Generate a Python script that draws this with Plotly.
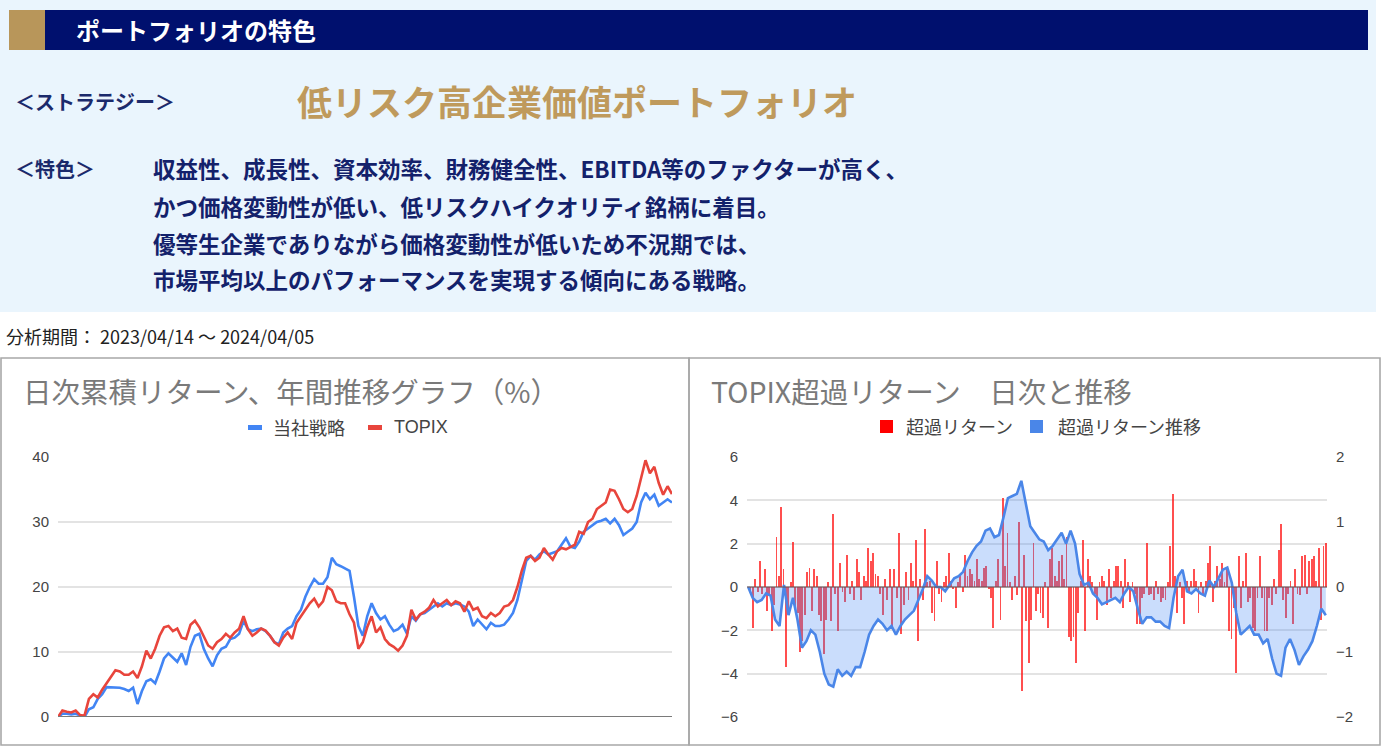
import numpy as np
import plotly.graph_objects as go

W, H = 1387, 753
FONT = "Noto Sans CJK JP"

# ---------------- data ----------------
strategy = [0, 0.5, 0.5, 0.4, 0.5, 0.2, 0.0, 1.2, 1.5, 2.8, 3.5, 4.6, 4.6, 4.5, 4.5, 4.3, 4.0, 4.5, 2.0, 4.0,
            5.5, 5.8, 5.2, 7.0, 9.0, 9.8, 9.2, 8.5, 9.8, 8.0, 10.8, 12.5, 12.8, 10.5, 9.0, 7.8, 9.5, 10.5, 10.8, 12.0,
            12.2, 12.8, 14.8, 13.5, 13.2, 13.5, 13.6, 13.2, 12.5, 11.5, 11.2, 13.0, 13.6, 14.0, 15.5, 16.5, 18.5, 20.0, 21.2, 20.5,
            20.5, 21.5, 24.5, 23.5, 23.2, 22.8, 22.5, 18.5, 14.0, 12.5, 15.5, 17.5, 16.0, 15.0, 15.5, 14.2, 13.2, 13.5, 14.2, 12.8,
            15.5, 14.8, 15.8, 16.0, 16.5, 17.0, 17.5, 17.0, 17.5, 17.2, 17.5, 17.3, 17.0, 16.2, 14.0, 15.0, 14.2, 13.5, 14.5, 14.0,
            14.0, 14.2, 15.0, 16.0, 18.0, 21.0, 24.0, 24.8, 24.2, 25.0, 25.5, 25.0, 25.3, 25.5, 26.5, 27.5, 26.2, 26.0, 27.0, 28.5,
            29.0, 29.5, 30.0, 30.2, 30.5, 29.8, 30.5, 29.5, 28.0, 28.5, 29.0, 30.0, 33.0, 34.5, 33.5, 34.2, 32.5, 33.0, 33.5, 33.0]
topix = [0, 1.0, 0.8, 0.7, 1.0, 0.3, 0.2, 2.8, 3.5, 3.0, 4.2, 5.2, 6.0, 7.2, 7.0, 6.5, 6.5, 7.0, 6.0, 7.8,
         10.2, 9.0, 10.5, 12.5, 13.8, 14.0, 13.2, 13.6, 12.2, 12.0, 14.2, 14.8, 13.8, 12.3, 11.0, 10.5, 11.5, 12.0, 12.8, 12.2,
         13.0, 13.6, 15.5, 13.5, 12.5, 13.0, 13.6, 13.3, 12.5, 11.5, 11.0, 12.2, 13.0, 12.0, 14.5, 15.5, 16.5, 17.5, 18.2, 17.0,
         17.8, 20.0, 19.5, 17.8, 17.5, 17.5, 15.8, 14.5, 10.5, 11.5, 13.8, 15.5, 13.0, 13.8, 12.0, 11.2, 10.8, 10.2, 11.0, 12.5,
         16.5, 15.0, 15.8, 16.2, 16.8, 18.0, 17.0, 17.5, 18.0, 17.2, 17.8, 17.5, 16.2, 17.8, 16.5, 16.8, 15.5, 15.2, 16.0, 15.5,
         16.0, 17.0, 17.2, 18.0, 20.0, 22.5, 24.5, 24.8, 24.0, 24.5, 26.0, 25.0, 24.2, 25.5, 26.0, 25.8, 26.2, 26.5, 28.5, 28.2,
         30.0, 30.5, 32.0, 32.5, 33.0, 35.0, 34.8, 33.5, 32.0, 31.5, 32.0, 34.0, 37.0, 39.5, 37.5, 38.5, 36.0, 34.2, 35.5, 34.3]

excess_daily = [0.00, -0.10, -0.63, 0.13, -0.07, 0.40, -0.10, 0.27, -0.37, -0.13,
                -0.67, -0.27, 0.77, 0.17, 1.23, 0.27, -1.23, -0.40, 0.07, 0.70,
                -0.33, -0.40, -1.00, -0.83, -0.43, 0.23, 0.30, -0.37, 0.27, 0.17,
                -0.43, -0.53, -1.03, -0.50, 0.07, -0.53, 1.13, -0.10, -0.67, 0.37,
                -0.07, -0.23, 0.50, -0.10, 0.10, -0.20, 0.43, 0.23, -0.20, 0.17,
                0.10, 0.60, 0.40, 0.53, 0.20, 0.17, -0.10, -0.43, 0.13, -0.20,
                0.27, -0.60, 0.27, -0.17, 0.83, -0.73, -0.27, 0.23, -0.20, 0.37,
                0.10, 0.73, -0.83, 0.13, -0.20, 0.90, 0.07, 0.10, -0.40, -0.53,
                0.40, -0.10, -0.23, 0.07, 0.17, 0.53, 0.10, -0.03, -0.33, 0.07,
                0.20, -0.07, 0.50, 0.17, 0.27, 0.20, 0.10, 0.43, 0.13, 0.10,
                0.30, 0.33, -0.03, -0.17, -0.63, 0.10, 0.43, -0.50, 1.37, 0.33,
                0.83, 0.07, -0.20, 0.17, -0.13, 1.00, -1.60, 0.50, -0.53, -1.17,
                -0.50, 0.67, -0.37, -0.10, -0.40, -0.47, 0.07, -0.63, 0.43, 0.60,
                0.17, 0.10, 0.40, 0.50, 0.13, 0.77, -0.77, -0.83, -0.77, -1.17,
                -0.40, 0.10, 0.73, -0.67, 0.43, 0.17, 0.07, -0.10, -0.50, 0.07,
                0.17, 0.10, -0.27, 0.27, -0.17, 0.10, 0.33, 0.33, 0.10, -0.33,
                0.43, 0.07, -0.23, 0.07, -0.10, -0.57, -0.57, -0.17, -0.10, 0.67,
                -0.13, -0.10, -0.20, 0.10, -0.10, -0.23, -0.17, -0.20, 0.07, 0.63,
                1.43, 0.17, -0.40, 0.07, -0.17, -0.57, 0.10, -0.07, 0.10, 0.27,
                0.10, -0.40, 0.07, -0.10, 0.10, 0.37, 0.63, -0.23, 0.10, 0.33,
                0.13, 0.37, 0.07, 0.27, -0.67, -0.80, -0.33, -1.33, 0.47, -0.33,
                0.10, 0.53, -0.23, -0.17, -0.63, -0.67, -0.17, 0.47, -0.17, -0.67,
                -0.67, -0.17, -0.27, 0.13, -0.10, 0.57, 0.97, -0.20, -0.47, -0.10,
                0.10, -0.57, 0.27, -0.10, -0.13, 0.47, 0.50, -0.10, 0.40, 0.43,
                0.47, 0.10, 0.60, -0.50, 0.63, 0.67]

excess_trend = [0.0, -0.5, -0.7, -0.6, -0.3, -0.4, -1.5, -1.8, 0.1, -1.3,
                -0.5, -1.5, -2.8, -2.5, -2.0, -2.2, -3.0, -4.0, -4.5, -4.6,
                -3.8, -4.1, -3.9, -4.1, -3.7, -3.7, -3.0, -2.2, -1.8, -1.5,
                -1.7, -2.0, -1.8, -2.2, -1.8, -1.5, -1.3, -1.1, -0.6, -0.1,
                0.5, 0.3, 0.0, 0.0, -0.2, 0.1, 0.4, 0.5, 0.7, 1.2,
                1.6, 1.9, 2.1, 2.6, 2.7, 2.3, 2.4, 3.2, 4.1, 4.2,
                4.3, 4.9, 3.8, 2.8, 2.5, 2.2, 2.1, 1.7, 1.9, 2.2,
                2.5, 2.0, 2.6, 2.0, 0.6, 0.1, 0.2, -0.3, -0.5, -0.8,
                -0.7, -0.6, -0.5, -0.7, -0.3, 0.0, -0.2, -1.0, -1.7, -1.4,
                -1.4, -1.6, -1.6, -1.8, -1.9, -0.5, 0.5, 0.8, -0.2, -0.3,
                -0.1, -0.3, -0.4, 0.3, 0.0, 0.4, 0.8, 0.9, 0.2, -1.2,
                -2.2, -2.0, -1.8, -2.2, -2.2, -2.6, -2.4, -3.3, -4.0, -4.1,
                -2.8, -2.4, -2.9, -3.6, -3.2, -2.9, -2.5, -1.8, -1.0, -1.3]

left_ticks = [0, 10, 20, 30, 40]
right_left_ticks = [-6, -4, -2, 0, 2, 4, 6]
right_right_ticks = [-2, -1, 0, 1, 2]

feature_lines = [
    "収益性、成長性、資本効率、財務健全性、EBITDA等のファクターが高く、",
    "かつ価格変動性が低い、低リスクハイクオリティ銘柄に着目。",
    "優等生企業でありながら価格変動性が低いため不況期では、",
    "市場平均以上のパフォーマンスを実現する傾向にある戦略。",
]

# ---------------- helpers ----------------
def px(x):
    return x / W


def py(y):
    return 1 - y / H


days_left = list(range(len(strategy)))
days_bar = list(range(len(excess_daily)))
days_trend = np.linspace(0, len(excess_daily) - 1, len(excess_trend))

fig = go.Figure()

fig.add_trace(go.Scatter(x=days_left, y=strategy, mode="lines", name="当社戦略",
                         line=dict(color="#4285f4", width=2.6), xaxis="x", yaxis="y"))
fig.add_trace(go.Scatter(x=days_left, y=topix, mode="lines", name="TOPIX",
                         line=dict(color="#e8453c", width=2.6), xaxis="x", yaxis="y"))

fig.add_trace(go.Bar(x=days_bar, y=excess_daily, name="超過リターン", width=0.8,
                     marker=dict(color="rgba(255,20,20,0.75)", line=dict(width=0)),
                     xaxis="x2", yaxis="y3"))
fig.add_trace(go.Scatter(x=days_trend, y=excess_trend, mode="lines", name="超過リターン推移",
                         fill="tozeroy", fillcolor="rgba(66,133,244,0.28)",
                         line=dict(color="#4a86e8", width=2.6), xaxis="x2", yaxis="y4"))

ydom = [py(717), py(457)]
tickfont = dict(family="Arial, " + FONT, size=15, color="#444444")

fig.update_layout(
    width=W, height=H, margin=dict(l=0, r=0, t=0, b=0, pad=0, autoexpand=False),
    paper_bgcolor="white", plot_bgcolor="rgba(0,0,0,0)",
    showlegend=False, bargap=0,
    font=dict(family=FONT),
    xaxis=dict(domain=[px(58), px(672)], range=[0, len(strategy) - 1], visible=False, automargin=False),
    yaxis=dict(domain=ydom, range=[0, 40], tickvals=left_ticks, showgrid=True, automargin=False,
               gridcolor="#e3e3e3", gridwidth=1.5, zeroline=False, showline=False,
               tickfont=tickfont, ticks="", ticklabelstandoff=8),
    xaxis2=dict(domain=[px(747), px(1327)], range=[-0.5, len(excess_daily) - 0.5],
                visible=False, anchor="y2", automargin=False),
    yaxis2=dict(domain=ydom, range=[-6, 6], tickvals=right_left_ticks, anchor="x2", automargin=False,
                showgrid=True, gridcolor="#e3e3e3", gridwidth=1.5, zeroline=False,
                tickfont=tickfont, ticks="", ticklabelstandoff=8),
    yaxis3=dict(overlaying="y2", side="right", anchor="x2", range=[-2, 2], automargin=False,
                tickvals=right_right_ticks, showgrid=False, zeroline=False,
                tickfont=tickfont, ticks="", ticklabelstandoff=8),
    yaxis4=dict(overlaying="y2", anchor="x2", range=[-6, 6], visible=False, automargin=False),
)

shapes = []
# top panel
shapes.append(dict(type="rect", xref="paper", yref="paper", x0=px(0), x1=px(1376), y0=py(312), y1=py(0),
                   fillcolor="#eaf5fd", line=dict(width=0), layer="below"))
shapes.append(dict(type="rect", xref="paper", yref="paper", x0=px(9), x1=px(45), y0=py(50), y1=py(10),
                   fillcolor="#b8965a", line=dict(width=0), layer="below"))
shapes.append(dict(type="rect", xref="paper", yref="paper", x0=px(45), x1=px(1368), y0=py(50), y1=py(10),
                   fillcolor="#00106e", line=dict(width=0), layer="below"))
# chart boxes
for x0, x1 in [(1, 689), (689, 1380)]:
    shapes.append(dict(type="rect", xref="paper", yref="paper", x0=px(x0), x1=px(x1), y0=py(745), y1=py(358),
                       fillcolor="rgba(0,0,0,0)", line=dict(color="#a8a8a8", width=1.6), layer="below"))
# baselines
shapes.append(dict(type="line", xref="paper", yref="y", x0=px(58), x1=px(672), y0=0, y1=0,
                   line=dict(color="#7a7a7a", width=2)))
shapes.append(dict(type="line", xref="paper", yref="y2", x0=px(747), x1=px(1327), y0=0, y1=0,
                   line=dict(color="#6b5050", width=1.2)))
# legends
shapes.append(dict(type="rect", xref="paper", yref="paper", x0=px(248), x1=px(262), y0=py(430), y1=py(425),
                   fillcolor="#4285f4", line=dict(width=0)))
shapes.append(dict(type="rect", xref="paper", yref="paper", x0=px(368), x1=px(382), y0=py(430), y1=py(425),
                   fillcolor="#e8453c", line=dict(width=0)))
shapes.append(dict(type="rect", xref="paper", yref="paper", x0=px(880), x1=px(893), y0=py(433), y1=py(420),
                   fillcolor="#ff0000", line=dict(width=0)))
shapes.append(dict(type="rect", xref="paper", yref="paper", x0=px(1030), x1=px(1043), y0=py(433), y1=py(420),
                   fillcolor="#4a86e8", line=dict(width=0)))
fig.update_layout(shapes=shapes)

ann = []


def text(x, y, s, size, color, bold=False, family=FONT):
    ann.append(dict(xref="paper", yref="paper", x=px(x), y=py(y), xanchor="left", yanchor="middle",
                    text=("<b>%s</b>" % s) if bold else s, showarrow=False,
                    font=dict(family=family, size=size, color=color)))


text(74, 30, "ポートフォリオの特色", 24, "white", bold=True)
text(13, 101, "＜ストラテジー＞", 20, "#1b2a6b", bold=True)
text(295, 100, "低リスク高企業価値ポートフォリオ", 35, "#bf9a5c", bold=True)
text(13, 168, "＜特色＞", 20, "#1b2a6b", bold=True)
for line, yy in zip(feature_lines, [168, 206, 243, 279]):
    text(151, yy, line, 22.5, "#13216b", bold=True)
text(4, 336, "分析期間： 2023/04/14 ～ 2024/04/05", 18, "#222222")
text(21, 390, "日次累積リターン、年間推移グラフ（%）", 28.5, "#7a7a7a")
text(709, 390, "TOPIX超過リターン　日次と推移", 28.5, "#7a7a7a")
text(271, 427, "当社戦略", 18, "#444444")
text(392, 427, "TOPIX", 18, "#444444", family="Arial, " + FONT)
text(904, 426, "超過リターン", 18, "#444444")
text(1056, 426, "超過リターン推移", 18, "#444444")
fig.update_layout(annotations=ann)

fig.write_html("out.html", config={"displayModeBar": False},
               post_script="document.documentElement.style.margin='0';document.body.style.margin='0';")
